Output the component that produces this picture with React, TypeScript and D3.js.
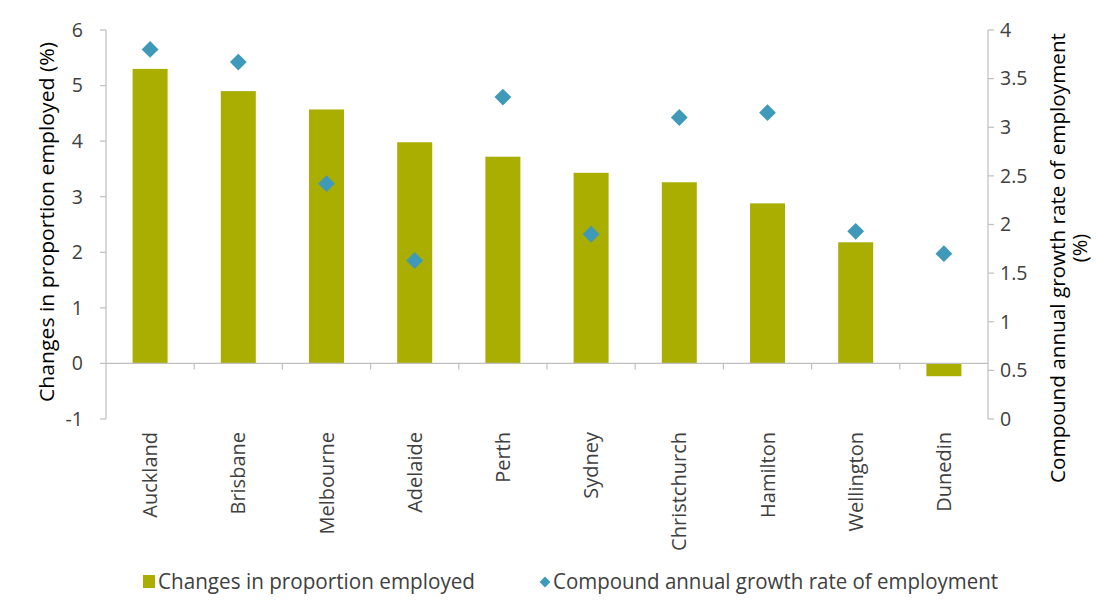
import React from "react";
import * as d3 from "d3";

const categories = ["Auckland", "Brisbane", "Melbourne", "Adelaide", "Perth", "Sydney", "Christchurch", "Hamilton", "Wellington", "Dunedin"];
const proportionChange = [5.3, 4.9, 4.57, 3.98, 3.72, 3.43, 3.26, 2.88, 2.18, -0.23];
const growthRate = [3.8, 3.67, 2.42, 1.63, 3.31, 1.9, 3.1, 3.15, 1.93, 1.7];
const leftTicks = [-1, 0, 1, 2, 3, 4, 5, 6];
const rightTicks = [0, 0.5, 1, 1.5, 2, 2.5, 3, 3.5, 4];

const W = 1110, H = 612;
const x0 = 106, x1 = 988, yTop = 30, yBot = 419;
const FONT = "'Open Sans', 'Noto Sans', sans-serif";
const BAR = "#A9AE00";
const DIA = "#3F99B8";
const AXIS = "#BFBFBF";
const TEXT = "#404040";

export default function App() {
  const xb = d3.scaleBand<string>().domain(categories).range([x0, x1]);
  const yL = d3.scaleLinear().domain([-1, 6]).range([yBot, yTop]);
  const yR = d3.scaleLinear().domain([0, 4]).range([yBot, yTop]);
  const diamond = d3.symbol().type(d3.symbolDiamond2).size(180)();
  const y0 = yL(0);
  const fs = 19.5;
  return (
    <svg width={W} height={H} style={{ position: "absolute", left: 0, top: 0, background: "#fff" }} fontFamily={FONT}>
      {/* bars */}
      {categories.map((c, i) => {
        const v = proportionChange[i];
        const bw = 35;
        const cx = (xb(c) as number) + xb.bandwidth() / 2;
        return <rect key={c} x={cx - bw / 2} y={Math.min(yL(v), y0)} width={bw} height={Math.abs(yL(v) - y0)} fill={BAR} />;
      })}
      {/* x axis at zero */}
      <line x1={x0} x2={x1} y1={y0} y2={y0} stroke={AXIS} strokeWidth={1.2} />
      {categories.slice(1).map((c) => (
        <line key={c} x1={xb(c)} x2={xb(c)} y1={y0} y2={y0 + 6} stroke={AXIS} strokeWidth={1.2} />
      ))}
      {/* left axis */}
      <line x1={x0} x2={x0} y1={yTop} y2={yBot} stroke={AXIS} strokeWidth={1.2} />
      {leftTicks.map((t) => (
        <g key={t}>
          <line x1={x0 - 6} x2={x0} y1={yL(t)} y2={yL(t)} stroke={AXIS} strokeWidth={1.2} />
          <text x={83} y={yL(t)} dy="0.35em" textAnchor="end" fontSize={fs} fill={TEXT}>{t}</text>
        </g>
      ))}
      {/* right axis */}
      <line x1={x1} x2={x1} y1={yTop} y2={yBot} stroke={AXIS} strokeWidth={1.2} />
      {rightTicks.map((t) => (
        <g key={t}>
          <line x1={x1} x2={x1 + 6} y1={yR(t)} y2={yR(t)} stroke={AXIS} strokeWidth={1.2} />
          <text x={1000} y={yR(t)} dy="0.35em" textAnchor="start" fontSize={fs} fill={TEXT}>{t}</text>
        </g>
      ))}
      {/* diamonds */}
      {categories.map((c, i) => {
        const cx = (xb(c) as number) + xb.bandwidth() / 2;
        return <path key={c} d={diamond as string} transform={`translate(${cx},${yR(growthRate[i])})`} fill={DIA} />;
      })}
      {/* category labels */}
      {categories.map((c) => {
        const cx = (xb(c) as number) + xb.bandwidth() / 2;
        return (
          <text key={c} transform={`translate(${cx + 7},${432}) rotate(-90)`} textAnchor="end" fontSize={20} fill={TEXT}>{c}</text>
        );
      })}
      {/* axis titles */}
      <text transform={`translate(54,${222}) rotate(-90)`} textAnchor="middle" fontSize={20} textLength={360} lengthAdjust="spacingAndGlyphs" fill="#000">Changes in proportion employed (%)</text>
      <text transform={`translate(1065,${258}) rotate(-90)`} textAnchor="middle" fontSize={20} textLength={450} lengthAdjust="spacingAndGlyphs" fill="#000">Compound annual growth rate of employment</text>
      <text transform={`translate(1087,${248}) rotate(-90)`} textAnchor="middle" fontSize={20} fill="#000">(%)</text>
      {/* legend */}
      <rect x={143} y={575} width={12} height={13} fill={BAR} />
      <text x={158} y={589} fontSize={21} textLength={317} lengthAdjust="spacingAndGlyphs" fill={TEXT}>Changes in proportion employed</text>
      <path d={d3.symbol().type(d3.symbolDiamond2).size(75)() as string} transform="translate(545,582)" fill={DIA} />
      <text x={553} y={589} fontSize={21} textLength={445} lengthAdjust="spacingAndGlyphs" fill={TEXT}>Compound annual growth rate of employment</text>
    </svg>
  );
}
